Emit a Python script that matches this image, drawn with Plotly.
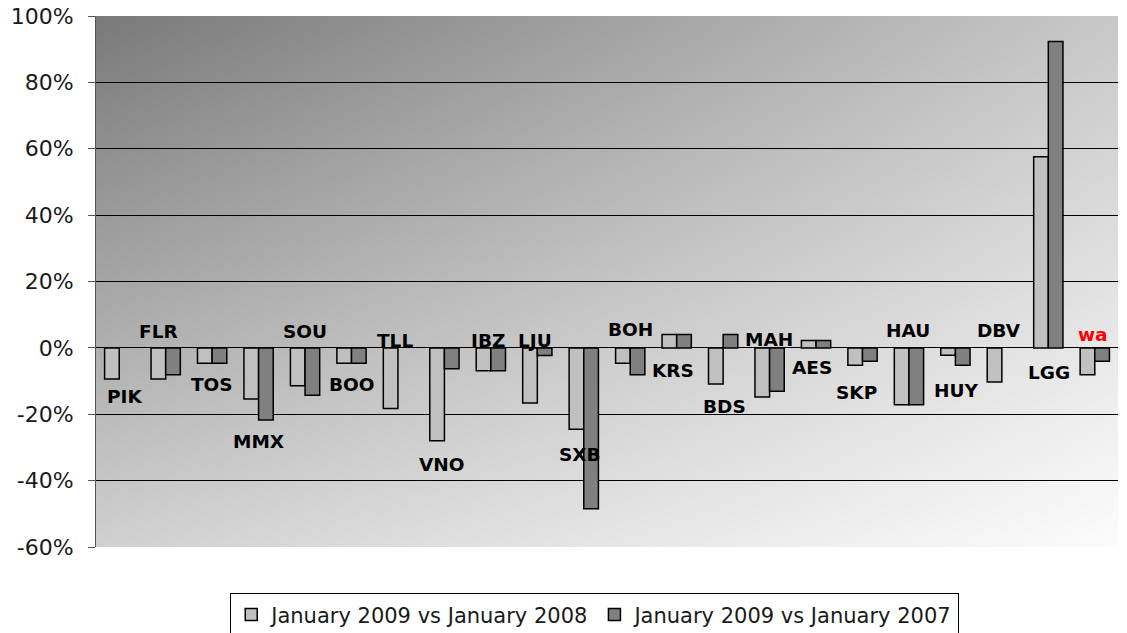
import zlib, struct, base64
import plotly.graph_objects as go

categories = ["PIK", "FLR", "TOS", "MMX", "SOU", "BOO", "TLL", "VNO", "IBZ", "LJU", "SXB",
              "BOH", "KRS", "BDS", "MAH", "AES", "SKP", "HAU", "HUY", "DBV", "LGG", "wa"]
vs_2008 = [-9.4, -9.4, -4.6, -15.4, -11.4, -4.6, -18.3, -28.0, -6.9, -16.6, -24.5,
           -4.6, 4.0, -10.9, -14.8, 2.2, -5.2, -17.1, -2.2, -10.3, 57.6, -8.1]
vs_2007 = [None, -8.1, -4.6, -21.7, -14.3, -4.6, None, -6.3, -6.9, -2.3, -48.5,
           -8.1, 4.0, 4.0, -13.1, 2.2, -4.0, -17.1, -5.2, None, 92.3, -4.0]
series_names = ["January 2009 vs January 2008", "January 2009 vs January 2007"]
tick_vals = [-60, -40, -20, 0, 20, 40, 60, 80, 100]
tick_text = ["-60%", "-40%", "-20%", "0%", "20%", "40%", "60%", "80%", "100%"]

# label placement (y in axis units, small x nudges in px)
label_y = [-14.8, 5.0, -11.0, -28.2, 5.0, -11.0, 2.1, -35.2, 2.3, 2.3, -32.2,
           5.4, -6.8, -17.8, 2.4, -5.9, -13.4, 5.3, -12.8, 5.3, -7.3, 3.9]
label_dx = [5, -7, 0, 0, 0, 0, -3, -2, -3, -2, -4, 0, -4, 1, -1, -4, -6, -1, 1, -3, 1, -2]
label_color = ["#000000"] * 21 + ["#ff0000"]


def gradient_png(w, h):
    def f(x, y):
        u = x / (w - 1)
        v = y / (h - 1)
        val = 122 + 78 * u + 86 * v - 34 * u * v
        return max(0, min(255, int(round(val))))
    raw = b"".join(b"\x00" + bytes(f(x, y) for x in range(w)) for y in range(h))

    def chunk(t, d):
        return struct.pack(">I", len(d)) + t + d + struct.pack(">I", zlib.crc32(t + d) & 0xffffffff)
    ihdr = struct.pack(">IIBBBBB", w, h, 8, 0, 0, 0, 0)
    data = b"\x89PNG\r\n\x1a\n" + chunk(b"IHDR", ihdr) + chunk(b"IDAT", zlib.compress(raw, 9)) + chunk(b"IEND", b"")
    return "data:image/png;base64," + base64.b64encode(data).decode()


fig = go.Figure()
fig.add_trace(go.Bar(x=categories, y=vs_2008, name=series_names[0],
                     marker=dict(color="#c0c0c0", line=dict(color="#000000", width=1.5))))
fig.add_trace(go.Bar(x=categories, y=vs_2007, name=series_names[1],
                     marker=dict(color="#808080", line=dict(color="#000000", width=1.5))))

for c, ly, dx, col in zip(categories, label_y, label_dx, label_color):
    fig.add_annotation(x=c, y=ly, text=c, showarrow=False, xshift=dx,
                       xanchor="center", yanchor="middle",
                       font=dict(family="DejaVu Sans", size=18.5, color=col, weight="bold"))

fig.add_layout_image(dict(source=gradient_png(256, 128), xref="paper", yref="paper",
                          x=0, y=1, sizex=1, sizey=1, sizing="stretch",
                          xanchor="left", yanchor="top", layer="below"))

fig.update_layout(
    width=1119, height=625,
    margin=dict(l=88, r=9, t=8, b=86, autoexpand=False),
    paper_bgcolor="white",
    plot_bgcolor="rgba(0,0,0,0)",
    barmode="group", bargap=0.37, bargroupgap=0,
    font=dict(family="DejaVu Sans", color="#1a1a1a"),
    showlegend=True,
    legend=dict(orientation="h", x=0.488, xanchor="center", y=-0.128, yanchor="middle",
                bgcolor="white", bordercolor="#000000", borderwidth=1,
                font=dict(family="DejaVu Sans", size=21, color="#1a1a1a"),
                itemwidth=30, tracegroupgap=0),
    xaxis=dict(showticklabels=False, showgrid=False, zeroline=False, showline=False,
               ticks="", fixedrange=True, automargin=False),
    yaxis=dict(range=[-60, 100], tickvals=tick_vals, ticktext=tick_text,
               showgrid=True, gridcolor="#000000", gridwidth=1,
               zeroline=True, zerolinecolor="#000000", zerolinewidth=1,
               showline=True, linecolor="#555555", linewidth=1,
               ticks="outside", ticklen=7, tickcolor="#555555",
               ticklabelstandoff=10, automargin=False, ticklabeloverflow="allow",
               tickfont=dict(family="DejaVu Sans", size=22, color="#1a1a1a")),
)

fig.write_html("out.html")
